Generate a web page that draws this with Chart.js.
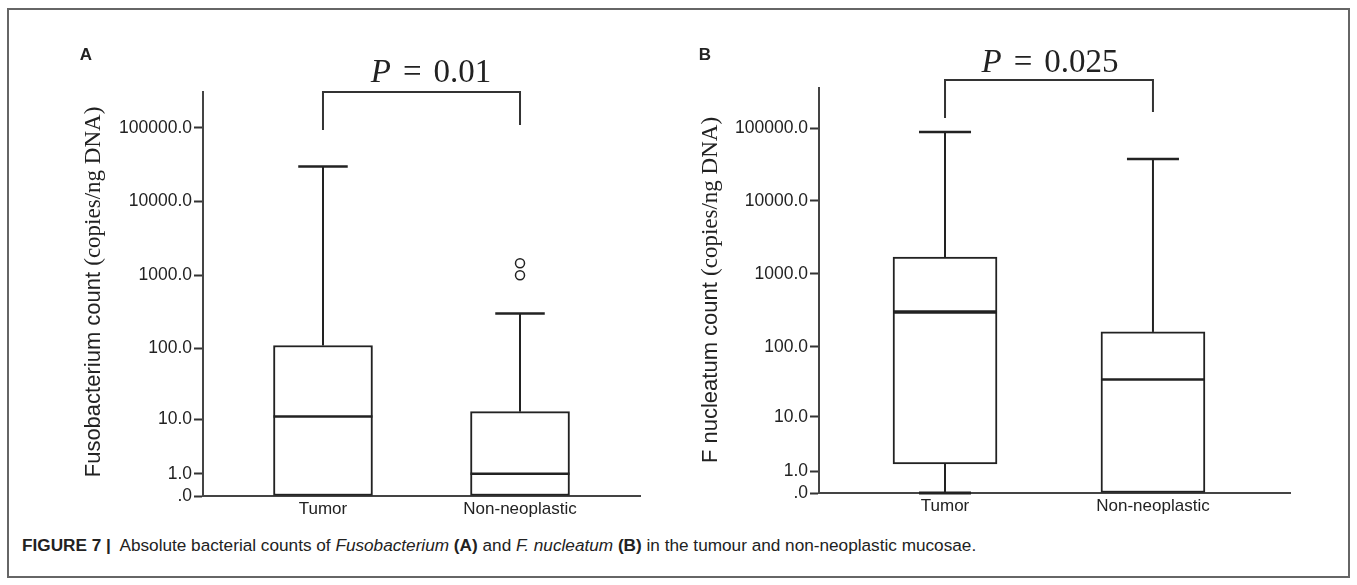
<!DOCTYPE html>
<html>
<head>
<meta charset="utf-8">
<title>Figure 7</title>
<script src="https://cdn.jsdelivr.net/npm/chart.js@4.4.1/dist/chart.umd.min.js"></script>
<style>
  html, body { margin: 0; padding: 0; background: #fff; }
  #page { position: relative; width: 1357px; height: 585px; overflow: hidden; }
  #frame { position: absolute; left: 7px; top: 8px; width: 1343px; height: 570px; border: 2px solid #666; box-sizing: border-box; }
  canvas { position: absolute; top: 0; }
  #chartA { left: 0; }
  #chartB { left: 680px; }
  #caption { position: absolute; left: 22px; top: 535px; font: 17.2px "Liberation Sans", Arial, sans-serif; color: #222; white-space: nowrap; }
</style>
</head>
<body>
<div id="page">
  <div id="frame"></div>
  <canvas id="chartA" width="680" height="530"></canvas>
  <canvas id="chartB" width="677" height="530"></canvas>
  <div id="caption"><b>FIGURE 7 |</b>&nbsp; Absolute bacterial counts of <i>Fusobacterium</i> <b>(A)</b> and <i>F. nucleatum</i> <b>(B)</b> in the tumour and non-neoplastic mucosae.</div>
</div>
<script>
// categorias e eixo
const categories = ['Tumor', 'Non-neoplastic'];
const tickValues = [0, 1, 10, 100, 1000, 10000, 100000];
const tickLabels = ['.0', '1.0', '10.0', '100.0', '1000.0', '10000.0', '100000.0'];
const pValues = ['0.01', '0.025'];

// (A) Fusobacterium, copies/ng DNA
const fusoMin = [0, 0];
const fusoQ1 = [0, 0];
const fusoMedian = [11, 1];
const fusoQ3 = [110, 13];
const fusoMax = [30000, 300];
const fusoOutliers = [1450, 1000]; // Non-neoplastic

// (B) F. nucleatum, copies/ng DNA
const nuclMin = [0, 0];
const nuclQ1 = [1.5, 0];
const nuclMedian = [300, 35];
const nuclQ3 = [1700, 160];
const nuclMax = [88000, 37500];
const nuclOutliers = [];

// eixo y em log10(x + 1), como no SPSS
class Log1pScale extends Chart.LinearScale {
  parse(raw, index) {
    const v = super.parse(raw, index);
    return v === null ? null : Math.log10(v + 1);
  }
  buildTicks() {
    return tickValues.map(t => ({ value: Math.log10(t + 1) }));
  }
}
Log1pScale.id = 'log1p';
Log1pScale.defaults = Chart.LinearScale.defaults;
Chart.register(Log1pScale);

const SANS = '"Liberation Sans", Arial, sans-serif';
const SERIF = '"Liberation Serif", "Times New Roman", serif';
const INK = '#222';

const panels = [
  {
    canvas: 'chartA', letter: 'A', p: pValues[0],
    titleMain: 'Fusobacterium count ', titleUnit: '(copies/ng DNA)',
    min: fusoMin, q1: fusoQ1, median: fusoMedian, q3: fusoQ3, max: fusoMax, outliers: fusoOutliers,
    padding: { left: 0, top: 92, right: 40, bottom: 4 }, yWidth: 203,
    xMin: 0.391, xMax: 2.609, yTopLog: 5.489, barWidth: 99, medianWidth: [2.5, 2.5],
    letterX: 86, titleX: 100, titleY: 292,
    bracketY: 92, legEnd: [130, 125], pX: 431, pY: 82
  },
  {
    canvas: 'chartB', letter: 'B', p: pValues[1],
    titleMain: 'F nucleatum count ', titleUnit: '(copies/ng DNA)',
    min: nuclMin, q1: nuclQ1, median: nuclMedian, q3: nuclQ3, max: nuclMax, outliers: nuclOutliers,
    padding: { left: 0, top: 88, right: 67, bottom: 7 }, yWidth: 139,
    xMin: 0.394, xMax: 2.659, yTopLog: 5.548, barWidth: 104, medianWidth: [3.5, 2.5],
    letterX: 25, titleX: 37, titleY: 290,
    bracketY: 80, legEnd: [118, 112], pX: 370, pY: 72
  }
];

function boxExtras(pn) {
  return {
    id: 'boxExtras',
    afterDatasetsDraw(chart) {
      const ctx = chart.ctx;
      const xs = chart.scales.x, ys = chart.scales.y;
      const py = v => ys.getPixelForValue(ys.parse(v));
      const bars = chart.getDatasetMeta(0).data;
      ctx.save();
      ctx.strokeStyle = INK;
      categories.forEach((c, i) => {
        const cx = xs.getPixelForValue(i + 1);
        const w = bars[i].width;
        // bigode superior
        ctx.lineWidth = 2;
        ctx.beginPath();
        ctx.moveTo(cx, py(pn.q3[i]));
        ctx.lineTo(cx, py(pn.max[i]));
        ctx.stroke();
        ctx.lineWidth = 2.5;
        ctx.beginPath();
        ctx.moveTo(cx - w / 4, py(pn.max[i]));
        ctx.lineTo(cx + w / 4, py(pn.max[i]));
        ctx.stroke();
        // bigode inferior
        if (pn.q1[i] > pn.min[i]) {
          ctx.lineWidth = 2;
          ctx.beginPath();
          ctx.moveTo(cx, py(pn.q1[i]));
          ctx.lineTo(cx, py(pn.min[i]));
          ctx.stroke();
          ctx.lineWidth = 3;
          ctx.beginPath();
          ctx.moveTo(cx - w / 4, py(pn.min[i]));
          ctx.lineTo(cx + w / 4, py(pn.min[i]));
          ctx.stroke();
        }
        // mediana
        ctx.lineWidth = pn.medianWidth[i];
        ctx.beginPath();
        ctx.moveTo(cx - w / 2, py(pn.median[i]));
        ctx.lineTo(cx + w / 2, py(pn.median[i]));
        ctx.stroke();
      });
      ctx.restore();
    },
    afterDraw(chart) {
      const ctx = chart.ctx;
      const xs = chart.scales.x;
      const x1 = xs.getPixelForValue(1), x2 = xs.getPixelForValue(2);
      ctx.save();
      // colchete do valor P
      ctx.strokeStyle = '#333';
      ctx.lineWidth = 2;
      ctx.beginPath();
      ctx.moveTo(x1, pn.legEnd[0]);
      ctx.lineTo(x1, pn.bracketY);
      ctx.lineTo(x2, pn.bracketY);
      ctx.lineTo(x2, pn.legEnd[1]);
      ctx.stroke();

      // texto P = ...
      ctx.fillStyle = INK;
      ctx.textBaseline = 'alphabetic';
      ctx.textAlign = 'left';
      const fi = 'italic 33px ' + SERIF, fn = '33px ' + SERIF;
      const gap = 12;
      ctx.font = fi; const wP = ctx.measureText('P').width;
      ctx.font = fn; const wEq = ctx.measureText('=').width, wNum = ctx.measureText(pn.p).width;
      let x = pn.pX - (wP + gap + wEq + gap + wNum) / 2;
      ctx.font = fi; ctx.fillText('P', x, pn.pY); x += wP + gap;
      ctx.font = fn; ctx.fillText('=', x, pn.pY); x += wEq + gap;
      ctx.fillText(pn.p, x, pn.pY);

      // letra do painel
      ctx.font = 'bold 17px ' + SANS;
      ctx.textAlign = 'center';
      ctx.textBaseline = 'middle';
      ctx.fillText(pn.letter, pn.letterX, 55);

      // titulo do eixo y (duas fontes)
      ctx.translate(pn.titleX, pn.titleY);
      ctx.rotate(-Math.PI / 2);
      ctx.textAlign = 'left';
      ctx.textBaseline = 'alphabetic';
      const f1 = '22px ' + SANS, f2 = '23px ' + SERIF;
      ctx.font = f1; const w1 = ctx.measureText(pn.titleMain).width;
      ctx.font = f2; const w2 = ctx.measureText(pn.titleUnit).width;
      const start = -(w1 + w2) / 2;
      ctx.font = f1; ctx.fillText(pn.titleMain, start, 0);
      ctx.font = f2; ctx.fillText(pn.titleUnit, start + w1, 0);
      ctx.restore();
    }
  };
}

window.onload = function () {
  panels.forEach(pn => {
    const ctx = document.getElementById(pn.canvas).getContext('2d');
    new Chart(ctx, {
      type: 'bar',
      data: {
        datasets: [
          {
            type: 'bar',
            data: categories.map((c, i) => ({ x: i + 1, y: [pn.q1[i], pn.q3[i]] })),
            backgroundColor: '#fff',
            borderColor: INK,
            borderWidth: 2,
            borderSkipped: false,
            barThickness: pn.barWidth
          },
          {
            type: 'scatter',
            data: pn.outliers.map(v => ({ x: 2, y: v })),
            pointStyle: 'circle',
            pointRadius: 4.5,
            pointBorderWidth: 1.5,
            pointBackgroundColor: '#fff',
            pointBorderColor: INK
          }
        ]
      },
      options: {
        responsive: false,
        animation: false,
        devicePixelRatio: 1,
        layout: { padding: pn.padding },
        plugins: { legend: { display: false }, tooltip: { enabled: false } },
        scales: {
          x: {
            type: 'linear',
            offset: false,
            min: pn.xMin,
            max: pn.xMax,
            afterBuildTicks: s => { s.ticks = categories.map((c, i) => ({ value: i + 1 })); },
            afterFit: s => { s.height = 30; },
            grid: { display: true, offset: false, drawOnChartArea: false, drawTicks: false },
            border: { display: true, color: '#444', width: 2 },
            ticks: {
              autoSkip: false,
              maxRotation: 0,
              padding: 3,
              color: INK,
              font: { family: SANS, size: 17 },
              callback: (v, i) => categories[i]
            }
          },
          y: {
            type: 'log1p',
            min: 0,
            max: Math.pow(10, pn.yTopLog) - 1,
            afterFit: s => { s.width = pn.yWidth; },
            grid: { display: true, drawOnChartArea: false, drawTicks: true, tickLength: 9, tickColor: '#333', tickWidth: 2 },
            border: { display: true, color: '#444', width: 2 },
            ticks: {
              autoSkip: false,
              padding: 2,
              color: INK,
              font: { family: SANS, size: 17.5 },
              callback: (v, i) => tickLabels[i]
            }
          }
        }
      },
      plugins: [boxExtras(pn)]
    });
  });
};
</script>
</body>
</html>
